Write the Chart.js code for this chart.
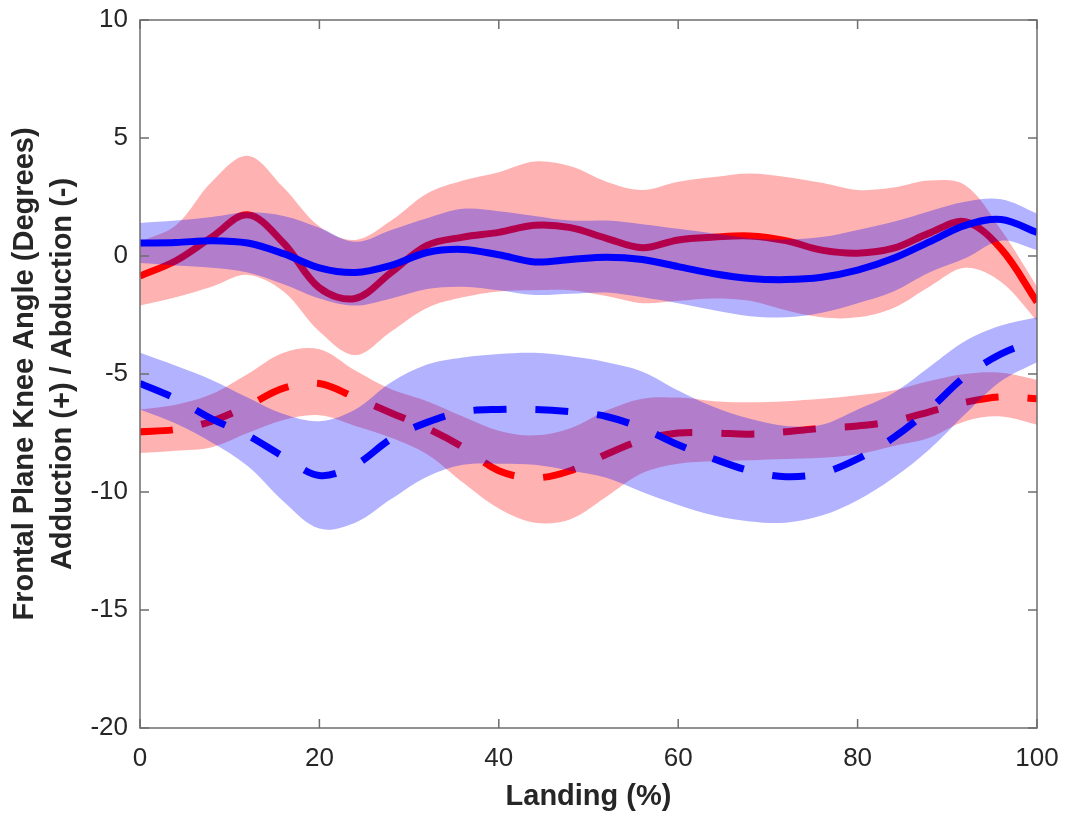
<!DOCTYPE html>
<html>
<head>
<meta charset="utf-8">
<script src="https://cdn.jsdelivr.net/npm/chart.js@4.4.1/dist/chart.umd.min.js"></script>
<style>
    html, body { margin: 0; padding: 0; background: #ffffff; }
    #knee-chart-canvas { display: block; }
</style>
</head>
<body>
<canvas id="knee-chart-canvas" width="1068" height="819"></canvas>
<script>
// landing phase (%), sampled every 4%
const landing = [0, 4, 8, 12, 16, 20, 24, 28, 32, 36, 40, 44, 48, 52, 56, 60, 64, 68, 72, 76, 80, 84, 88, 92, 96, 100];

// solid curves: mean and +/- SD band edges (degrees)
const redSolid   = [-0.85, -0.2, 0.8, 1.75, 0.55, -1.35, -1.8, -0.7, 0.45, 0.8, 1.0, 1.3, 1.2, 0.75, 0.35, 0.68, 0.8, 0.85, 0.65, 0.25, 0.12, 0.33, 0.97, 1.45, 0.3, -1.95];
const redSolidHi = [0.6, 1.3, 3.15, 4.25, 2.9, 1.25, 0.68, 1.5, 2.65, 3.2, 3.55, 4.0, 3.8, 3.15, 2.8, 3.15, 3.35, 3.5, 3.35, 3.1, 2.8, 2.9, 3.2, 3.0, 1.1, -1.3];
const redSolidLo = [-2.1, -1.75, -1.3, -0.8, -1.5, -3.2, -4.2, -3.2, -2.2, -1.75, -1.5, -1.45, -1.45, -1.7, -2.0, -1.9, -1.8, -1.9, -2.3, -2.6, -2.6, -2.2, -1.3, -0.5, -1.1, -2.75];

const blueSolid   = [0.55, 0.57, 0.65, 0.55, 0.1, -0.5, -0.7, -0.4, 0.15, 0.28, 0.05, -0.25, -0.15, -0.05, -0.15, -0.45, -0.75, -0.95, -1.0, -0.9, -0.6, -0.1, 0.6, 1.3, 1.55, 1.0];
const blueSolidHi = [1.4, 1.5, 1.65, 1.85, 1.7, 1.2, 0.6, 1.1, 1.6, 2.0, 1.9, 1.7, 1.5, 1.5, 1.35, 1.15, 0.95, 0.75, 0.7, 0.8, 1.1, 1.45, 1.9, 2.3, 2.4, 1.8];
const blueSolidLo = [-0.3, -0.4, -0.5, -0.7, -1.2, -1.8, -2.1, -1.8, -1.4, -1.3, -1.45, -1.65, -1.6, -1.55, -1.75, -2.0, -2.3, -2.55, -2.6, -2.4, -2.0, -1.5, -0.7, -0.1, 0.65, 0.25];

// dashed curves: mean and +/- SD band edges (degrees)
const redDashed   = [-7.45, -7.35, -7.0, -6.35, -5.6, -5.4, -6.0, -6.65, -7.3, -8.1, -9.1, -9.4, -9.1, -8.4, -7.8, -7.5, -7.5, -7.55, -7.45, -7.3, -7.2, -7.0, -6.6, -6.2, -5.97, -6.05];
const redDashedHi = [-6.5, -6.3, -5.85, -5.0, -4.1, -3.95, -4.85, -5.65, -6.15, -6.8, -7.4, -7.6, -7.3, -6.55, -6.05, -6.0, -6.15, -6.2, -6.15, -6.05, -5.9, -5.7, -5.3, -5.0, -4.95, -5.25];
const redDashedLo = [-8.35, -8.25, -8.1, -7.5, -6.95, -6.75, -7.2, -7.7, -8.4, -9.6, -10.7, -11.3, -11.15, -10.2, -9.2, -8.8, -8.7, -8.65, -8.6, -8.55, -8.4, -8.05, -7.7, -7.0, -6.8, -7.15];

const blueDashed   = [-5.4, -6.05, -6.9, -7.6, -8.5, -9.3, -8.85, -7.75, -7.05, -6.6, -6.5, -6.5, -6.6, -6.8, -7.3, -8.0, -8.6, -9.1, -9.35, -9.2, -8.6, -7.7, -6.5, -5.1, -4.15, -3.55];
const blueDashedHi = [-4.1, -4.65, -5.25, -6.0, -6.7, -7.0, -6.5, -5.35, -4.6, -4.3, -4.15, -4.1, -4.25, -4.5, -4.9, -5.7, -6.4, -6.9, -7.2, -7.15, -6.5, -5.8, -4.7, -3.6, -2.95, -2.6];
const blueDashedLo = [-6.5, -7.1, -7.9, -8.9, -10.4, -11.55, -11.3, -10.3, -9.35, -8.85, -8.8, -8.85, -9.1, -9.4, -10.0, -10.55, -11.0, -11.25, -11.3, -11.0, -10.35, -9.4, -8.2, -6.7, -5.3, -4.5];

// axis ticks
const xTicks = [0, 20, 40, 60, 80, 100];
const yTicks = [-20, -15, -10, -5, 0, 5, 10];

const FONT = "'Liberation Sans', Arial, Helvetica, sans-serif";
const TEXT_COLOR = '#262626';
const AXIS_COLOR = '#6e6e6e';
const RED = '#ff0000';
const BLUE = '#0000ff';
const RED_FILL = 'rgba(255, 0, 0, 0.3)';
const BLUE_FILL = 'rgba(0, 0, 255, 0.3)';
const DASH = [33, 29];

function to_points(values) {
    return landing.map((x, i) => ({ x: x, y: values[i] }));
}

// band = upper edge filled down to the next dataset (lower edge)
function band(hi, lo, color, order) {
    return [
        {
            data: to_points(hi),
            borderWidth: 0,
            pointRadius: 0,
            backgroundColor: color,
            fill: '+1',
            order: order
        },
        {
            data: to_points(lo),
            borderWidth: 0,
            pointRadius: 0,
            fill: false,
            order: order
        }
    ];
}

function mean_line(values, color, dashed, order) {
    return {
        data: to_points(values),
        borderColor: color,
        borderWidth: 7,
        borderDash: dashed ? DASH : [],
        borderCapStyle: 'butt',
        borderJoinStyle: 'round',
        pointRadius: 0,
        fill: false,
        order: order
    };
}

// box around the plot with inward ticks on all four sides
const axis_box = {
    id: 'axisBox',
    afterDatasetsDraw(chart) {
        const { ctx, chartArea: a, scales: { x, y } } = chart;
        const len = 9;
        ctx.save();
        ctx.strokeStyle = AXIS_COLOR;
        ctx.lineWidth = 1.5;
        ctx.strokeRect(a.left, a.top, a.right - a.left, a.bottom - a.top);
        ctx.beginPath();
        xTicks.forEach((v) => {
            const px = x.getPixelForValue(v);
            ctx.moveTo(px, a.bottom); ctx.lineTo(px, a.bottom - len);
            ctx.moveTo(px, a.top); ctx.lineTo(px, a.top + len);
        });
        yTicks.forEach((v) => {
            const py = y.getPixelForValue(v);
            ctx.moveTo(a.left, py); ctx.lineTo(a.left + len, py);
            ctx.moveTo(a.right, py); ctx.lineTo(a.right - len, py);
        });
        ctx.stroke();
        ctx.restore();
    }
};

const datasets = [].concat(
    band(redSolidHi, redSolidLo, RED_FILL, 4),
    band(redDashedHi, redDashedLo, RED_FILL, 4),
    [mean_line(redSolid, RED, false, 3), mean_line(redDashed, RED, true, 3)],
    band(blueSolidHi, blueSolidLo, BLUE_FILL, 2),
    band(blueDashedHi, blueDashedLo, BLUE_FILL, 2),
    [mean_line(blueSolid, BLUE, false, 1), mean_line(blueDashed, BLUE, true, 1)]
);

// the label gap is given as an invisible tick length, so it does not
// push the plot area inward the way ticks.padding would
const knee_chart = new Chart(document.getElementById('knee-chart-canvas'), {
    type: 'line',
    data: { datasets: datasets },
    plugins: [axis_box],
    options: {
        responsive: false,
        devicePixelRatio: 1,
        animation: false,
        layout: {
            padding: { left: 0, top: 20, right: 31, bottom: 0 }
        },
        elements: {
            line: { tension: 0.35 }
        },
        plugins: {
            legend: { display: false },
            tooltip: { enabled: false },
            filler: { propagate: false }
        },
        scales: {
            x: {
                type: 'linear',
                min: 0,
                max: 100,
                afterBuildTicks: (scale) => {
                    scale.ticks = xTicks.map((v) => ({ value: v }));
                },
                afterFit: (scale) => { scale.height = 91; },
                grid: { display: false, drawTicks: true, tickLength: 15 },
                border: { display: false },
                ticks: {
                    padding: 0,
                    color: TEXT_COLOR,
                    font: { family: FONT, size: 26 }
                },
                title: {
                    display: true,
                    text: 'Landing (%)',
                    color: TEXT_COLOR,
                    padding: { top: 0, bottom: 5 },
                    font: { family: FONT, size: 29, weight: 'bold', lineHeight: 1.2 }
                }
            },
            y: {
                type: 'linear',
                min: -20,
                max: 10,
                afterBuildTicks: (scale) => {
                    scale.ticks = yTicks.map((v) => ({ value: v }));
                },
                afterFit: (scale) => { scale.width = 140; },
                grid: { display: false, drawTicks: true, tickLength: 12 },
                border: { display: false },
                ticks: {
                    padding: 0,
                    color: TEXT_COLOR,
                    font: { family: FONT, size: 26 }
                },
                title: {
                    display: true,
                    text: ['Frontal Plane Knee Angle (Degrees)', 'Adduction (+) / Abduction (-)'],
                    color: TEXT_COLOR,
                    padding: { top: 6, bottom: 0 },
                    font: { family: FONT, size: 29, weight: 'bold', lineHeight: 1.3 }
                }
            }
        }
    }
});
</script>
</body>
</html>
